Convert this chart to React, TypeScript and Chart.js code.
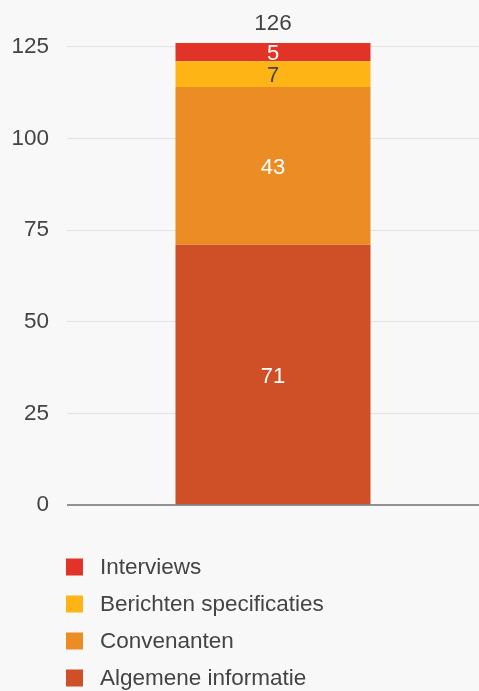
import React, { useEffect, useRef } from "react";
import { Chart, registerables } from "chart.js";

Chart.register(...registerables);

const categories = [""];
const seriesNames = ["Algemene informatie", "Convenanten", "Berichten specificaties", "Interviews"];
const algemeneInformatie = [71];
const convenanten = [43];
const berichtenSpecificaties = [7];
const interviews = [5];
const yTicks = [0, 25, 50, 75, 100, 125];

const seriesValues = [algemeneInformatie, convenanten, berichtenSpecificaties, interviews];
const seriesColors = ["#cf4f27", "#eb8c25", "#feb415", "#e13328"];
const labelColors = ["#ffffff", "#ffffff", "#444444", "#ffffff"];

const FONT = "'Liberation Sans', Arial, sans-serif";
const TEXT = "#444444";

const labelPlugin = {
  id: "labelsAndLegend",
  afterDatasetsDraw(chart: any) {
    const ctx = chart.ctx;
    const area = chart.chartArea;
    const y0 = chart.scales.y.getPixelForValue(0);
    ctx.save();
    ctx.strokeStyle = "#707070";
    ctx.lineWidth = 1.5;
    ctx.beginPath();
    ctx.moveTo(area.left, y0);
    ctx.lineTo(area.right, y0);
    ctx.stroke();

    ctx.textAlign = "center";
    ctx.textBaseline = "middle";
    ctx.font = `22px ${FONT}`;
    const totals: number[] = categories.map(() => 0);
    const tops: number[] = categories.map(() => Infinity);
    const xs: number[] = categories.map(() => 0);
    chart.data.datasets.forEach((ds: any, i: number) => {
      const meta = chart.getDatasetMeta(i);
      meta.data.forEach((el: any, j: number) => {
        const v = ds.data[j];
        const { x, y, base } = el.getProps(["x", "y", "base"], true);
        totals[j] += v;
        tops[j] = Math.min(tops[j], y);
        xs[j] = x;
        ctx.fillStyle = labelColors[i];
        ctx.fillText(String(v), x, (y + base) / 2 + 2);
      });
    });
    ctx.fillStyle = TEXT;
    ctx.font = `22.5px ${FONT}`;
    totals.forEach((t, j) => {
      ctx.fillText(String(t), xs[j], tops[j] - 19);
    });
    ctx.restore();
  },
  afterDraw(chart: any) {
    const ctx = chart.ctx;
    ctx.save();
    ctx.font = `22.5px ${FONT}`;
    ctx.textAlign = "left";
    ctx.textBaseline = "middle";
    const dsets = chart.data.datasets.slice().reverse();
    dsets.forEach((ds: any, k: number) => {
      const cy = chart.chartArea.bottom + 62 + k * 37;
      ctx.fillStyle = ds.backgroundColor;
      ctx.fillRect(66, cy - 8.5, 17, 17);
      ctx.fillStyle = TEXT;
      ctx.fillText(ds.label, 100, cy + 1);
    });
    ctx.restore();
  },
};

export default function App() {
  const ref = useRef<HTMLCanvasElement>(null);
  useEffect(() => {
    if (!ref.current) return;
    const chart = new Chart(ref.current, {
      type: "bar",
      data: {
        labels: categories,
        datasets: seriesNames.map((name, i) => ({
          label: name,
          data: seriesValues[i],
          backgroundColor: seriesColors[i],
          borderWidth: 0,
          categoryPercentage: 1,
          barPercentage: 0.4733,
        })),
      },
      options: {
        responsive: false,
        animation: false,
        events: [],
        layout: { padding: { top: 43, bottom: 186, left: 0, right: 0 } },
        plugins: {
          legend: { display: false },
          tooltip: { enabled: false },
        },
        scales: {
          x: { display: false, stacked: true },
          y: {
            stacked: true,
            min: 0,
            max: 126,
            afterBuildTicks(scale: any) {
              scale.ticks = yTicks.map((v) => ({ value: v }));
            },
            afterFit(scale: any) {
              scale.width = 67;
            },
            border: { display: false },
            grid: {
              color: (c: any) => (c.tick && c.tick.value === 0 ? "rgba(0,0,0,0)" : "#e3e3e3"),
              drawTicks: false,
              lineWidth: 1,
            },
            ticks: {
              padding: 18,
              color: TEXT,
              font: { family: FONT, size: 22.5 },
            },
          },
        },
      },
      plugins: [labelPlugin],
    });
    return () => chart.destroy();
  }, []);
  return (
    <div style={{ position: "fixed", left: 0, top: 0, width: 479, height: 691, background: "#f8f8f8" }}>
      <canvas ref={ref} width={479} height={691} style={{ display: "block" }} />
    </div>
  );
}
